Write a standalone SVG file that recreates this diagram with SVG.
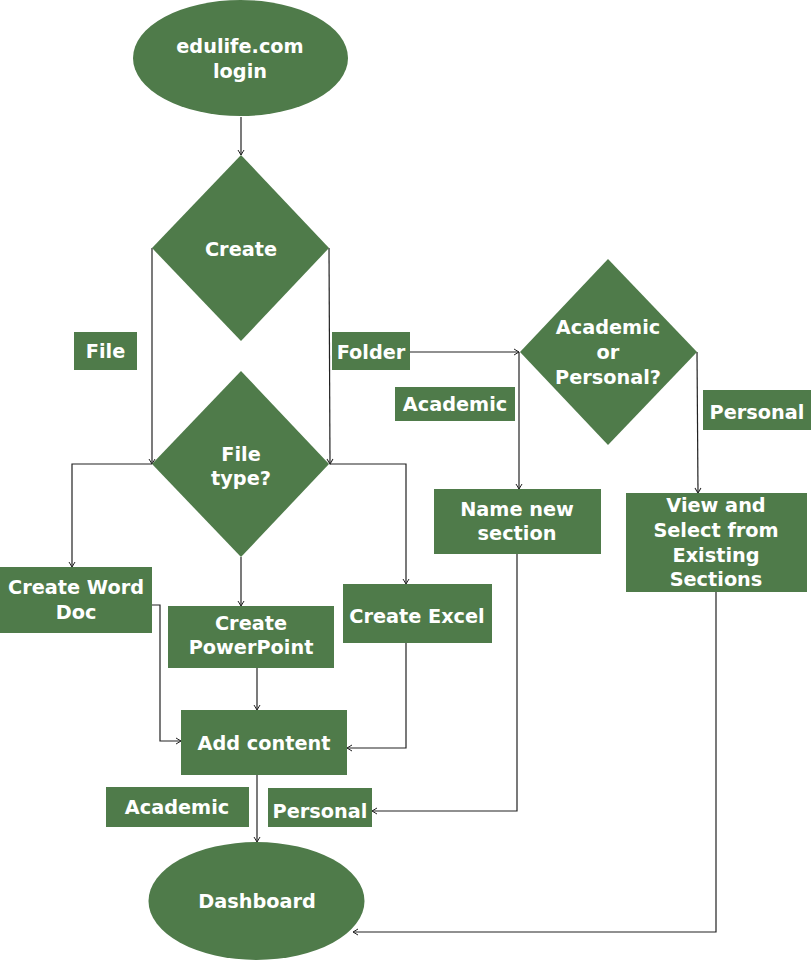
<svg xmlns="http://www.w3.org/2000/svg" width="812" height="961" viewBox="0 0 812 961">
<style>
.n{fill:#4F7B4A}
.t{fill:#fff;font-family:"DejaVu Sans",sans-serif;font-weight:bold;font-size:19.3px;text-anchor:middle}
.c{fill:none;stroke:#222;stroke-width:1.2;marker-end:url(#a)}
</style>
<defs>
<marker id="a" markerWidth="8" markerHeight="8" refX="6" refY="4" orient="auto" markerUnits="userSpaceOnUse">
<path d="M1,1 L6,4 L1,7" fill="none" stroke="#222" stroke-width="1"/>
</marker>
</defs>
<rect width="812" height="961" fill="#fff"/>
<g id="connectors">
<path class="c" d="M241,117 V155"/>
<path class="c" d="M152,248 V464"/>
<path class="c" d="M329,248 L330,464"/>
<path class="c" d="M410,352 H519"/>
<path class="c" d="M519,352 V489"/>
<path class="c" d="M697,352 L698,493"/>
<path class="c" d="M152,464 H72 V567"/>
<path class="c" d="M330,464 H406 V584"/>
<path class="c" d="M241,557 V606"/>
<path class="c" d="M152,605 H160 V741 H181"/>
<path class="c" d="M257,668 V710"/>
<path class="c" d="M406,643 V748 H347"/>
<path class="c" d="M257,775 V842"/>
<path class="c" d="M517,554 V811 H372"/>
<path class="c" d="M716,592 V932 H353"/>
</g>
<g id="login"><ellipse class="n" cx="240.5" cy="58" rx="107.5" ry="58"/><text class="t" x="240" y="53">edulife.com</text><text class="t" x="240" y="78">login</text></g>
<g id="create"><polygon class="n" points="241,155 329,248 241,341 152,248"/><text class="t" x="241" y="256">Create</text></g>
<g id="lbl-file"><rect class="n" x="74" y="332" width="63" height="38"/><text class="t" x="105.5" y="358">File</text></g>
<g id="lbl-folder"><rect class="n" x="332" y="332" width="78" height="38"/><text class="t" x="371" y="359">Folder</text></g>
<g id="filetype"><polygon class="n" points="241,371 329,464 241,557 152,464"/><text class="t" x="241" y="461">File</text><text class="t" x="241" y="485">type?</text></g>
<g id="acadpers"><polygon class="n" points="608,259 697,352 608,445 520,352"/><text class="t" x="608" y="334">Academic</text><text class="t" x="608" y="359">or</text><text class="t" x="608" y="384">Personal?</text></g>
<g id="lbl-academic1"><rect class="n" x="395" y="387" width="120" height="34"/><text class="t" x="455" y="411">Academic</text></g>
<g id="lbl-personal1"><rect class="n" x="703" y="390" width="108" height="40"/><text class="t" x="757" y="419">Personal</text></g>
<g id="namenew"><rect class="n" x="434" y="489" width="167" height="65"/><text class="t" x="517" y="516">Name new</text><text class="t" x="517" y="540">section</text></g>
<g id="viewselect"><rect class="n" x="626" y="493" width="181" height="99"/><text class="t" x="716" y="512">View and</text><text class="t" x="716" y="537">Select from</text><text class="t" x="716" y="562">Existing</text><text class="t" x="716" y="586">Sections</text></g>
<g id="word"><rect class="n" x="0" y="567" width="152" height="66"/><text class="t" x="76" y="594">Create Word</text><text class="t" x="76" y="619">Doc</text></g>
<g id="ppt"><rect class="n" x="168" y="606" width="166" height="62"/><text class="t" x="251" y="630">Create</text><text class="t" x="251" y="654">PowerPoint</text></g>
<g id="excel"><rect class="n" x="343" y="584" width="149" height="59"/><text class="t" x="417" y="623">Create Excel</text></g>
<g id="addcontent"><rect class="n" x="181" y="710" width="166" height="65"/><text class="t" x="264" y="750">Add content</text></g>
<g id="lbl-academic2"><rect class="n" x="106" y="787" width="143" height="40"/><text class="t" x="177" y="814">Academic</text></g>
<g id="lbl-personal2"><rect class="n" x="268" y="788" width="104" height="39"/><text class="t" x="320" y="818">Personal</text></g>
<g id="dashboard"><ellipse class="n" cx="256.5" cy="901" rx="108" ry="59"/><text class="t" x="257" y="908">Dashboard</text></g>
</svg>
